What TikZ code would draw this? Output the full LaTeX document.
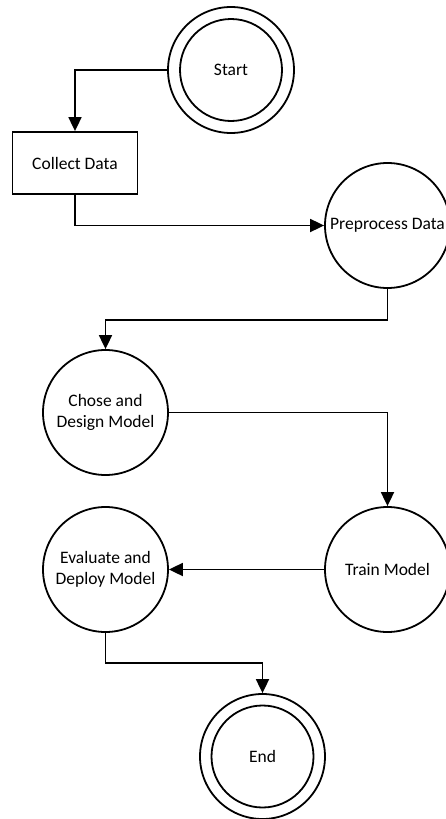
\documentclass[tikz,border=0pt]{standalone}
\usepackage{fontspec}
\setmainfont{Carlito}
\usetikzlibrary{arrows.meta}
\begin{document}
\begin{tikzpicture}[x=1pt,y=-1pt,
  every node/.style={font=\fontsize{17.5}{21}\selectfont, align=center, inner sep=0pt},
  state/.style={circle, draw, line width=1.8pt, minimum size=125pt},
  terminal/.style={circle, draw, line width=1.8pt, minimum size=102pt},
  ring/.style={circle, draw, line width=1.8pt, minimum size=126pt},
  procbox/.style={rectangle, draw, line width=1.8pt, minimum width=125pt, minimum height=62pt},
  flow/.style={draw, line width=1.8pt, -{Triangle[length=14pt,width=13pt]}}]
  \clip (0,0) rectangle (446,819);
  % start and end markers: ring around an inner circle
  \node[ring] (startring) at (231,70) {};
  \node[terminal] (start) at (231,70) {Start};
  \node[procbox] (collect) at (75,163) {Collect Data};
  \node[state] (prep) at (387.5,225.5) {Preprocess Data};
  \node[state] (design) at (105.5,412.5) {Chose and\\Design Model};
  \node[state] (train) at (387.5,569.5) {Train Model};
  \node[state] (eval) at (105.5,569.5) {Evaluate and\\Deploy Model};
  \node[ring, minimum size=125pt] (endring) at (262.5,756.5) {};
  \node[terminal] (end) at (262.5,756.5) {End};
  % connectors
  \draw[flow] (startring.west) -| (collect.north);
  \draw[flow] (collect.south) |- (prep.west);
  \draw[flow] (prep.south) -- ++(0,31) -| (design.north);
  \draw[flow] (design.east) -| (train.north);
  \draw[flow] (train.west) -- (eval.east);
  \draw[flow] (eval.south) -- ++(0,30) -| (endring.north);
\end{tikzpicture}
\end{document}
